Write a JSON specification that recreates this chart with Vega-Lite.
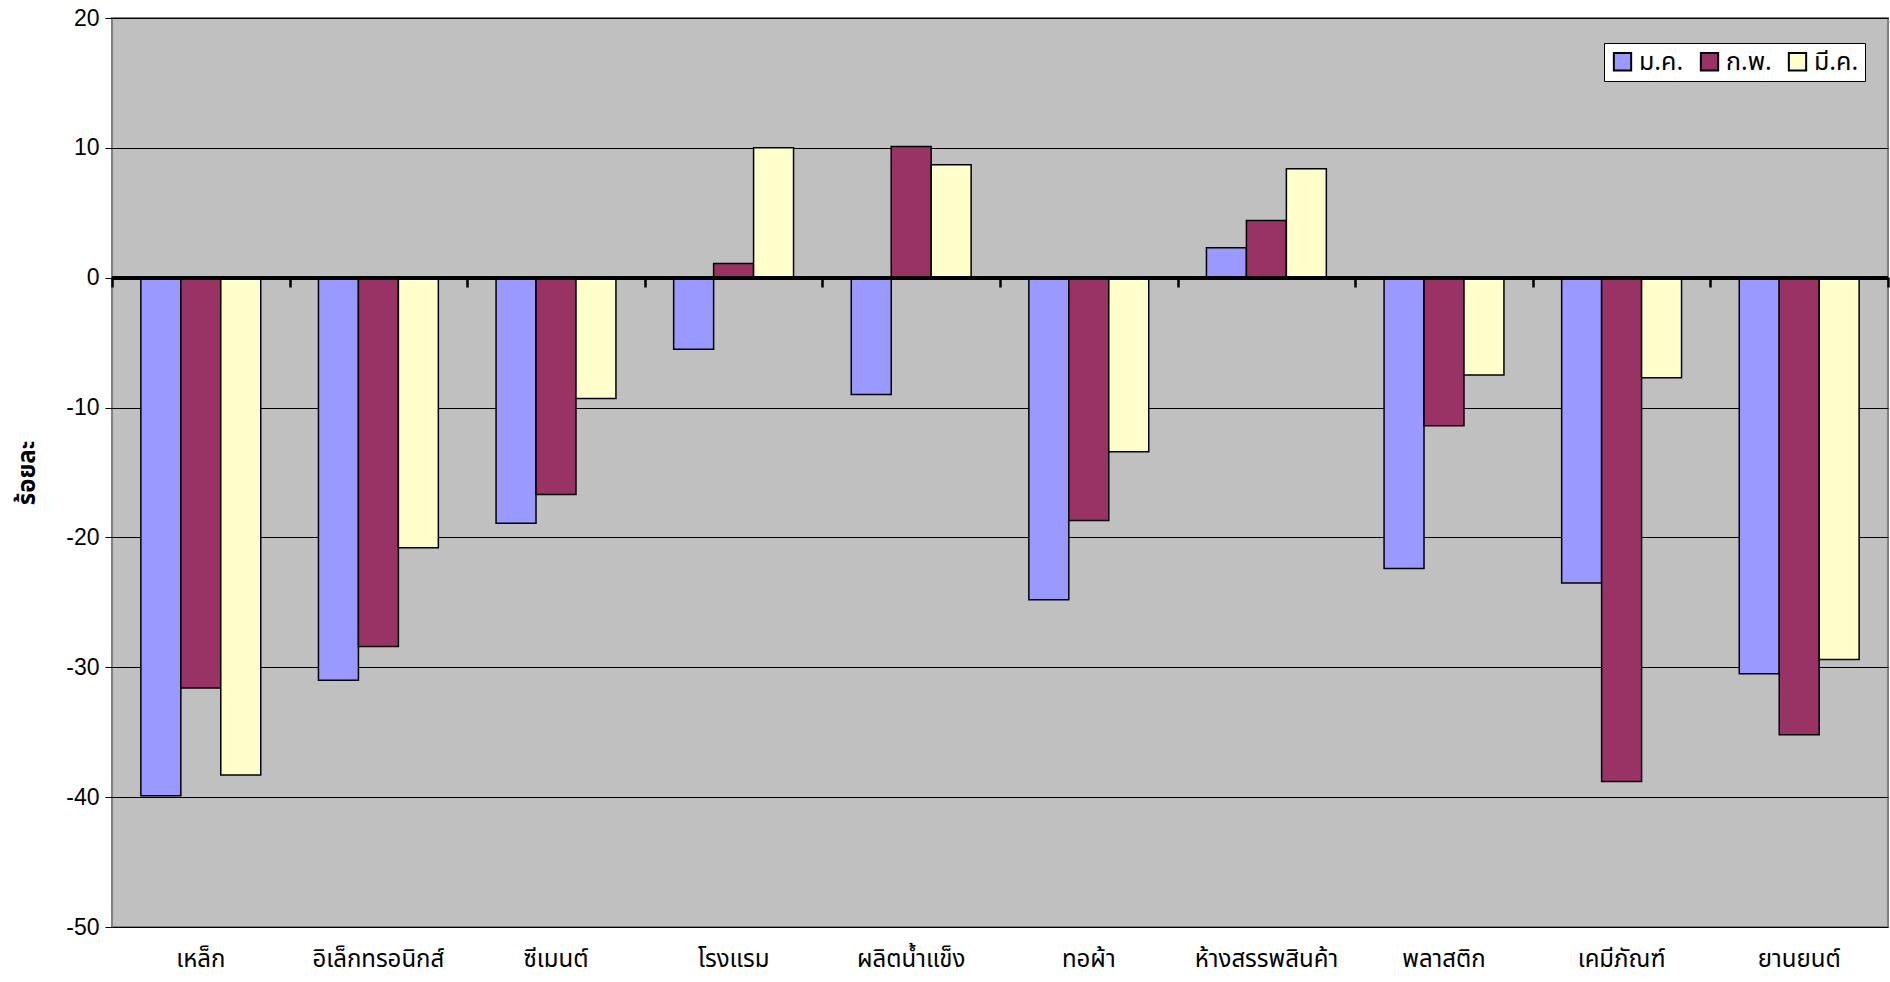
{
  "$schema": "https://vega.github.io/schema/vega-lite/v6.json",
  "width": 1776,
  "height": 909,
  "autosize": "none",
  "padding": {"left": 112, "top": 18, "right": 2, "bottom": 55},
  "background": "white",
  "config": {
    "view": {"fill": "#C0C0C0", "stroke": "#808080", "strokeWidth": 2},
    "font": "Liberation Sans"
  },
  "data": {
    "values": [
      {"cat": "เหล็ก", "month": "ม.ค.", "value": -39.9},
      {"cat": "เหล็ก", "month": "ก.พ.", "value": -31.6},
      {"cat": "เหล็ก", "month": "มี.ค.", "value": -38.3},
      {"cat": "อิเล็กทรอนิกส์", "month": "ม.ค.", "value": -31.0},
      {"cat": "อิเล็กทรอนิกส์", "month": "ก.พ.", "value": -28.4},
      {"cat": "อิเล็กทรอนิกส์", "month": "มี.ค.", "value": -20.8},
      {"cat": "ซีเมนต์", "month": "ม.ค.", "value": -18.9},
      {"cat": "ซีเมนต์", "month": "ก.พ.", "value": -16.7},
      {"cat": "ซีเมนต์", "month": "มี.ค.", "value": -9.3},
      {"cat": "โรงแรม", "month": "ม.ค.", "value": -5.5},
      {"cat": "โรงแรม", "month": "ก.พ.", "value": 1.1},
      {"cat": "โรงแรม", "month": "มี.ค.", "value": 10.0},
      {"cat": "ผลิตน้ำแข็ง", "month": "ม.ค.", "value": -9.0},
      {"cat": "ผลิตน้ำแข็ง", "month": "ก.พ.", "value": 10.1},
      {"cat": "ผลิตน้ำแข็ง", "month": "มี.ค.", "value": 8.7},
      {"cat": "ทอผ้า", "month": "ม.ค.", "value": -24.8},
      {"cat": "ทอผ้า", "month": "ก.พ.", "value": -18.7},
      {"cat": "ทอผ้า", "month": "มี.ค.", "value": -13.4},
      {"cat": "ห้างสรรพสินค้า", "month": "ม.ค.", "value": 2.3},
      {"cat": "ห้างสรรพสินค้า", "month": "ก.พ.", "value": 4.4},
      {"cat": "ห้างสรรพสินค้า", "month": "มี.ค.", "value": 8.4},
      {"cat": "พลาสติก", "month": "ม.ค.", "value": -22.4},
      {"cat": "พลาสติก", "month": "ก.พ.", "value": -11.4},
      {"cat": "พลาสติก", "month": "มี.ค.", "value": -7.5},
      {"cat": "เคมีภัณฑ์", "month": "ม.ค.", "value": -23.5},
      {"cat": "เคมีภัณฑ์", "month": "ก.พ.", "value": -38.8},
      {"cat": "เคมีภัณฑ์", "month": "มี.ค.", "value": -7.7},
      {"cat": "ยานยนต์", "month": "ม.ค.", "value": -30.5},
      {"cat": "ยานยนต์", "month": "ก.พ.", "value": -35.2},
      {"cat": "ยานยนต์", "month": "มี.ค.", "value": -29.4}
    ]
  },
  "resolve": {"scale": {"x": "independent"}, "axis": {"x": "independent"}},
  "layer": [
    {
      "mark": {"type": "bar", "stroke": "black", "strokeWidth": 1.5},
      "encoding": {
        "x": {
          "field": "cat",
          "type": "nominal",
          "sort": null,
          "scale": {"paddingInner": 0.325, "paddingOuter": 0.1625},
          "axis": {
            "title": null,
            "labelAngle": 0,
            "ticks": false,
            "domain": false,
            "labelFont": "Noto Sans Thai, Noto Sans, DejaVu Sans",
            "labelFontSize": 24,
            "labelColor": "black",
            "labelPadding": 20
          }
        },
        "xOffset": {"field": "month", "type": "nominal", "sort": ["ม.ค.", "ก.พ.", "มี.ค."]},
        "y": {
          "field": "value",
          "type": "quantitative",
          "scale": {"domain": [-50, 20], "nice": false, "zero": false},
          "axis": {
            "title": "ร้อยละ",
            "titleFont": "Noto Sans Thai, Noto Sans, DejaVu Sans",
            "titleFontSize": 24,
            "titleFontWeight": "bold",
            "titleColor": "black",
            "titlePadding": 26,
            "values": [-50, -40, -30, -20, -10, 0, 10, 20],
            "labelExpr": "'' + datum.value",
            "grid": true,
            "gridColor": "black",
            "gridWidth": 1,
            "domain": false,
            "tickColor": "black",
            "tickSize": 7,
            "labelFontSize": 23,
            "labelColor": "black",
            "labelPadding": 6
          }
        },
        "color": {
          "field": "month",
          "type": "nominal",
          "scale": {"domain": ["ม.ค.", "ก.พ.", "มี.ค."], "range": ["#9999FF", "#993366", "#FFFFCC"]},
          "legend": {
            "title": null,
            "orient": "none",
            "legendX": 1492,
            "legendY": 25,
            "direction": "horizontal",
            "fillColor": "white",
            "strokeColor": "black",
            "padding": 6,
            "symbolType": "square",
            "symbolSize": 300,
            "symbolStrokeColor": "black",
            "symbolStrokeWidth": 2,
            "symbolOpacity": 1,
            "labelFont": "Noto Sans Thai, Noto Sans, DejaVu Sans",
            "labelFontSize": 25,
            "labelColor": "black",
            "columnPadding": 12,
            "labelOffset": 4
          }
        }
      }
    },
    {
      "mark": {"type": "rule", "color": "black", "strokeWidth": 3},
      "encoding": {"y": {"datum": 0}}
    },
    {
      "mark": {"type": "text", "text": ""},
      "encoding": {
        "x": {
          "field": "cat",
          "type": "nominal",
          "sort": null,
          "scale": {"paddingInner": 0, "paddingOuter": 0},
          "axis": {
            "orient": "top",
            "offset": -259,
            "title": null,
            "labels": false,
            "domain": false,
            "tickBand": "extent",
            "tickSize": -10,
            "tickWidth": 2.5,
            "tickColor": "black",
            "zindex": 1
          }
        },
        "y": {"datum": 0}
      }
    }
  ]
}
